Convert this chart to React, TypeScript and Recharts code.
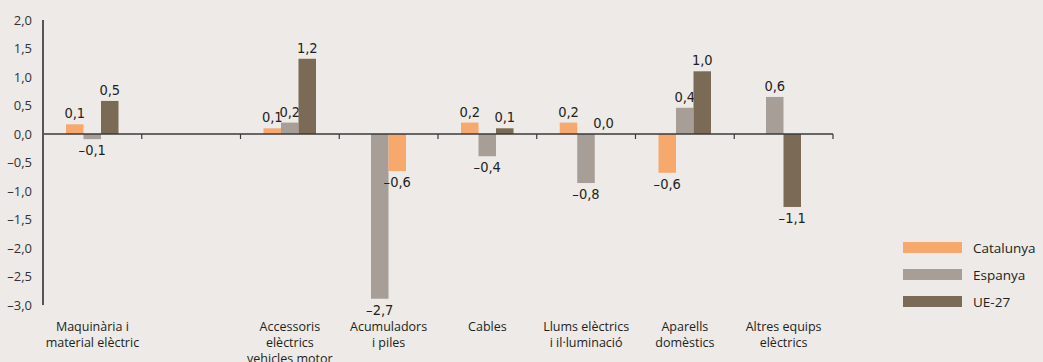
import { BarChart, Bar, XAxis, YAxis, ReferenceLine, Cell } from 'recharts'

const categories = [
  'Maquinària i\nmaterial elèctric',
  '',
  'Accessoris\nelèctrics\nvehicles motor',
  'Acumuladors\ni piles',
  'Cables',
  'Llums elèctrics\ni il·luminació',
  'Aparells\ndomèstics',
  'Altres equips\nelèctrics',
]

// bar heights as drawn, printed labels kept apart (they are rounded in the source)
const catalunya = [0.17, null, 0.1, null, 0.2, 0.2, -0.68, null]
const espanya = [-0.09, null, 0.2, -2.89, -0.39, -0.86, 0.46, 0.65]
const ue27 = [0.58, null, 1.32, -0.65, 0.1, 0, 1.1, -1.28]

const catalunyaLabels = ['0,1', '', '0,1', '', '0,2', '0,2', '–0,6', '']
const espanyaLabels = ['–0,1', '', '0,2', '–2,7', '–0,4', '–0,8', '0,4', '0,6']
const ue27Labels = ['0,5', '', '1,2', '–0,6', '0,1', '0,0', '1,0', '–1,1']

const yTicks = [-3, -2.5, -2, -1.5, -1, -0.5, 0, 0.5, 1, 1.5, 2]

const COLORS = { cat: '#f6a86d', esp: '#a69e97', ue: '#7a6a56' }
const BG = '#edeae7'
const TEXT = '#231f20'
const LABEL_FONT = "'Liberation Sans Narrow', 'DejaVu Sans Condensed', sans-serif"
const TICK_FONT = "'Open Sans', 'Noto Sans', sans-serif"

const seriesKeys = ['catalunya', 'espanya', 'ue27'] as const
const labels: Record<string, string[]> = { catalunya: catalunyaLabels, espanya: espanyaLabels, ue27: ue27Labels }

const data = categories.map((name, i) => ({
  name,
  catalunya: catalunya[i],
  espanya: espanya[i],
  ue27: ue27[i],
}))

const fmt = (v: number) => v.toFixed(1).replace('.', ',').replace('-', '–')

// bars of a group are centred on the ones that exist in that category
function makeShape(key: (typeof seriesKeys)[number]) {
  const slot = seriesKeys.indexOf(key)
  return (props: any) => {
    const { x, y, width, height, payload, fill } = props
    if (payload == null || payload[key] == null) return <g />
    const idx = categories.indexOf(payload.name)
    const present = seriesKeys.filter((k) => payload[k] != null)
    const rank = present.indexOf(key)
    const groupStart = x - slot * width
    const nx = groupStart + ((3 - present.length) * width) / 2 + rank * width
    const top = height < 0 ? y + height : y
    const h = Math.abs(height)
    const neg = payload[key] < 0
    const text = labels[key][idx]
    return (
      <g>
        {h > 0 && <rect x={nx} y={top} width={width} height={h} fill={fill} />}
        <text
          x={nx + width / 2}
          y={neg ? top + h + 16 : top - 6}
          textAnchor="middle"
          fontFamily={LABEL_FONT}
          fontSize={14.5}
          fill={TEXT}
        >
          {text}
        </text>
      </g>
    )
  }
}

function CategoryTick(props: any) {
  const { x, y, payload } = props
  const lines = String(payload.value).split('\n')
  return (
    <g>
      {lines.map((l, i) => (
        <text key={i} x={x} y={y + 24 + i * 16} textAnchor="middle" fontFamily={TICK_FONT} fontSize={12.5} fill={TEXT}>
          {l}
        </text>
      ))}
    </g>
  )
}

function ZeroLine(props: any) {
  const { x1, y1, x2 } = props
  const step = (x2 - x1) / categories.length
  return (
    <g>
      <line x1={x1} y1={y1} x2={x2} y2={y1} stroke="#3a3a3a" strokeWidth={1.5} />
      {categories.map((_, i) => (
        <line key={i} x1={x1 + step * (i + 1)} x2={x1 + step * (i + 1)} y1={y1} y2={y1 + 5} stroke="#3a3a3a" strokeWidth={1.2} />
      ))}
    </g>
  )
}

const legendItems = [
  { label: 'Catalunya', color: COLORS.cat },
  { label: 'Espanya', color: COLORS.esp },
  { label: 'UE-27', color: COLORS.ue },
]

function LegendBox() {
  return (
    <div style={{ position: 'absolute', left: 903, top: 234 }}>
      {legendItems.map((it) => (
        <div key={it.label} style={{ display: 'flex', alignItems: 'center', height: 27 }}>
          <span style={{ display: 'inline-block', width: 59, height: 11, background: it.color, marginRight: 11 }} />
          <span style={{ fontFamily: TICK_FONT, fontSize: 13.5, color: TEXT }}>{it.label}</span>
        </div>
      ))}
    </div>
  )
}

export default function App() {
  return (
    <div style={{ position: 'absolute', left: 0, top: 0, width: 1043, height: 362, background: BG }}>
      <BarChart
        width={1043}
        height={362}
        data={data}
        margin={{ top: 20, right: 210, bottom: 0, left: 0 }}
        barSize={17.5}
        barGap={0}
      >
        <XAxis
          dataKey="name"
          height={57}
          axisLine={false}
          tickLine={false}
          tickSize={0}
          tick={<CategoryTick />}
          interval={0}
        />
        <YAxis
          width={43}
          domain={[-3, 2]}
          ticks={yTicks}
          interval={0}
          tickFormatter={fmt}
          axisLine={{ stroke: '#555', strokeWidth: 2 }}
          tickLine={false}
          tickSize={0}
          tickMargin={11}
          tick={{ fontFamily: TICK_FONT, fontSize: 13, fill: '#333' }}
        />
        <Bar dataKey="catalunya" name="Catalunya" fill={COLORS.cat} isAnimationActive={false} shape={makeShape('catalunya')} />
        <Bar dataKey="espanya" name="Espanya" fill={COLORS.esp} isAnimationActive={false} shape={makeShape('espanya')} />
        <Bar dataKey="ue27" name="UE-27" fill={COLORS.ue} isAnimationActive={false} shape={makeShape('ue27')}>
          {data.map((d, i) => (
            <Cell key={i} fill={d.name.startsWith('Acumuladors') ? COLORS.cat : COLORS.ue} />
          ))}
        </Bar>
        <ReferenceLine y={0} shape={<ZeroLine />} />
      </BarChart>
      <LegendBox />
    </div>
  )
}
